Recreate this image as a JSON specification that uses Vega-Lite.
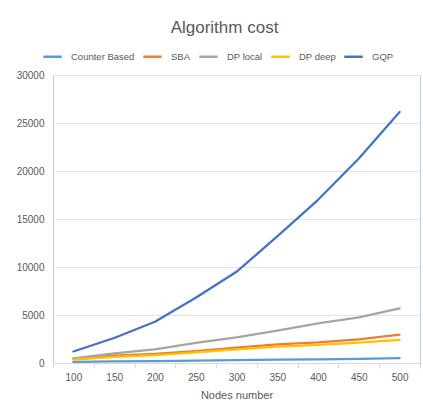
{
  "$schema": "https://vega.github.io/schema/vega-lite/v6.json",
  "width": 367,
  "height": 288,
  "autosize": {"type": "none"},
  "padding": {"left": 53, "top": 75, "right": 3, "bottom": 53},
  "background": "white",
  "title": {
    "text": "Algorithm cost",
    "font": "Liberation Sans",
    "fontSize": 17,
    "fontWeight": "normal",
    "color": "#595959",
    "anchor": "middle",
    "dx": -12,
    "offset": 9
  },
  "data": {
    "values": [
      {"nodes": 100, "algo": "Counter Based", "cost": 110},
      {"nodes": 150, "algo": "Counter Based", "cost": 160},
      {"nodes": 200, "algo": "Counter Based", "cost": 200},
      {"nodes": 250, "algo": "Counter Based", "cost": 250},
      {"nodes": 300, "algo": "Counter Based", "cost": 290},
      {"nodes": 350, "algo": "Counter Based", "cost": 340},
      {"nodes": 400, "algo": "Counter Based", "cost": 390},
      {"nodes": 450, "algo": "Counter Based", "cost": 440},
      {"nodes": 500, "algo": "Counter Based", "cost": 500},
      {"nodes": 100, "algo": "SBA", "cost": 450},
      {"nodes": 150, "algo": "SBA", "cost": 760},
      {"nodes": 200, "algo": "SBA", "cost": 940},
      {"nodes": 250, "algo": "SBA", "cost": 1250},
      {"nodes": 300, "algo": "SBA", "cost": 1600},
      {"nodes": 350, "algo": "SBA", "cost": 1950},
      {"nodes": 400, "algo": "SBA", "cost": 2150},
      {"nodes": 450, "algo": "SBA", "cost": 2470},
      {"nodes": 500, "algo": "SBA", "cost": 2950},
      {"nodes": 100, "algo": "DP local", "cost": 490},
      {"nodes": 150, "algo": "DP local", "cost": 1000},
      {"nodes": 200, "algo": "DP local", "cost": 1430},
      {"nodes": 250, "algo": "DP local", "cost": 2100},
      {"nodes": 300, "algo": "DP local", "cost": 2680},
      {"nodes": 350, "algo": "DP local", "cost": 3370},
      {"nodes": 400, "algo": "DP local", "cost": 4130},
      {"nodes": 450, "algo": "DP local", "cost": 4760},
      {"nodes": 500, "algo": "DP local", "cost": 5700},
      {"nodes": 100, "algo": "DP deep", "cost": 350},
      {"nodes": 150, "algo": "DP deep", "cost": 650},
      {"nodes": 200, "algo": "DP deep", "cost": 830},
      {"nodes": 250, "algo": "DP deep", "cost": 1110},
      {"nodes": 300, "algo": "DP deep", "cost": 1430},
      {"nodes": 350, "algo": "DP deep", "cost": 1700},
      {"nodes": 400, "algo": "DP deep", "cost": 1900},
      {"nodes": 450, "algo": "DP deep", "cost": 2110},
      {"nodes": 500, "algo": "DP deep", "cost": 2400},
      {"nodes": 100, "algo": "GQP", "cost": 1200},
      {"nodes": 150, "algo": "GQP", "cost": 2600},
      {"nodes": 200, "algo": "GQP", "cost": 4300},
      {"nodes": 250, "algo": "GQP", "cost": 6800},
      {"nodes": 300, "algo": "GQP", "cost": 9500},
      {"nodes": 350, "algo": "GQP", "cost": 13200},
      {"nodes": 400, "algo": "GQP", "cost": 17000},
      {"nodes": 450, "algo": "GQP", "cost": 21300},
      {"nodes": 500, "algo": "GQP", "cost": 26150}
    ]
  },
  "mark": {"type": "line", "strokeWidth": 2.25, "strokeCap": "round", "strokeJoin": "round"},
  "encoding": {
    "x": {
      "field": "nodes",
      "type": "ordinal",
      "bandPosition": 0.5,
      "scale": {"type": "band", "paddingInner": 0, "paddingOuter": 0},
      "axis": {
        "title": "Nodes number",
        "titleFont": "Liberation Sans",
        "titleFontSize": 11,
        "titleFontWeight": "normal",
        "titleColor": "#595959",
        "titlePadding": 7,
        "labelAngle": 0,
        "labelFont": "Liberation Sans",
        "labelFontSize": 10,
        "labelColor": "#595959",
        "labelPadding": 4,
        "tickBand": "extent",
        "tickSize": 5,
        "tickColor": "#D9D9D9",
        "domainColor": "#D9D9D9",
        "grid": false
      }
    },
    "y": {
      "field": "cost",
      "type": "quantitative",
      "scale": {"domain": [0, 30000], "nice": false},
      "axis": {
        "title": null,
        "values": [0, 5000, 10000, 15000, 20000, 25000, 30000],
        "format": "d",
        "labelFont": "Liberation Sans",
        "labelFontSize": 10,
        "labelColor": "#595959",
        "labelPadding": 9,
        "domain": false,
        "ticks": false,
        "gridColor": "#E3E3E3"
      }
    },
    "color": {
      "field": "algo",
      "type": "nominal",
      "sort": ["Counter Based", "SBA", "DP local", "DP deep", "GQP"],
      "scale": {
        "domain": ["Counter Based", "SBA", "DP local", "DP deep", "GQP"],
        "range": ["#5B9BD5", "#ED7D31", "#A5A5A5", "#FFC000", "#4472C4"]
      },
      "legend": {
        "title": null,
        "orient": "none",
        "direction": "horizontal",
        "legendX": -11,
        "legendY": -29,
        "symbolType": "stroke",
        "symbolSize": 340,
        "symbolStrokeWidth": 2.5,
        "labelFont": "Liberation Sans",
        "labelFontSize": 9.5,
        "labelColor": "#595959",
        "labelOffset": 8,
        "columnPadding": 3
      }
    }
  },
  "config": {
    "view": {"stroke": "#B7CCEB", "strokeWidth": 1}
  }
}
